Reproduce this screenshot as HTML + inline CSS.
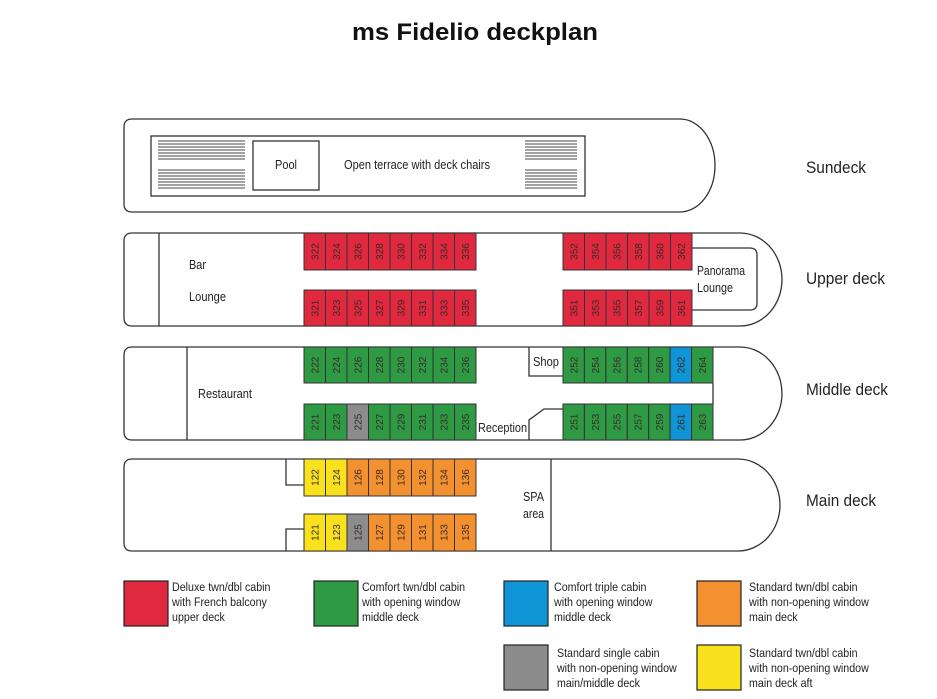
<!DOCTYPE html>
<html><head><meta charset="utf-8"><style>
html,body{margin:0;padding:0;background:#fff;width:937px;height:699px;overflow:hidden}
svg{display:block}
text{font-family:"Liberation Sans Narrow","Liberation Sans",sans-serif;fill:#222}
.c text{font-size:10px;fill:#3a2a2a}
.lg{font-size:12px;fill:#333}
</style></head><body>
<svg width="937" height="699" viewBox="0 0 937 699" xmlns="http://www.w3.org/2000/svg">
<text x="475" y="40" text-anchor="middle" textLength="246" lengthAdjust="spacingAndGlyphs" style="font-family:'Liberation Sans',sans-serif;font-weight:bold;font-size:24px;fill:#111">ms Fidelio deckplan</text>

<g fill="none" stroke="#333" stroke-width="1.3">
<path d="M132,119 H680 A35,46.5 0 0 1 680,212 H132 Q124,212 124,204 V127 Q124,119 132,119Z"/>
<rect x="151" y="136" width="434" height="60"/>
<rect x="253" y="141" width="66" height="49"/>
<path d="M132,233 H740 A42,46.5 0 0 1 740,326 H132 Q124,326 124,318 V241 Q124,233 132,233Z"/>
<line x1="159" y1="233" x2="159" y2="326"/>
<path d="M692,248 H750 Q757,248 757,255 V303 Q757,310 750,310 H692"/>
<path d="M132,347 H740 A42,46.5 0 0 1 740,440 H132 Q124,440 124,432 V355 Q124,347 132,347Z"/>
<line x1="187" y1="347" x2="187" y2="440"/>
<path d="M529,347 V376 H563"/>
<path d="M529,440 V420 L544,409 H563"/>
<line x1="713" y1="383" x2="713" y2="404"/>
<path d="M132,459 H738 A42,46 0 0 1 738,551 H132 Q124,551 124,543 V467 Q124,459 132,459Z"/>
<path d="M286,459 V485 H304"/>
<path d="M286,551 V529 H304"/>
<line x1="551" y1="459" x2="551" y2="551"/>
</g>
<g stroke="#444" stroke-width="1">
<path d="M158,141H245M158,144H245M158,147H245M158,150H245M158,153H245M158,156H245M158,159H245"/>
<path d="M158,170H245M158,173H245M158,176H245M158,179H245M158,182H245M158,185H245M158,188H245"/>
<path d="M525,141H577M525,144H577M525,147H577M525,150H577M525,153H577M525,156H577M525,159H577"/>
<path d="M525,170H577M525,173H577M525,176H577M525,179H577M525,182H577M525,185H577M525,188H577"/>
</g>
<g style="font-size:12.5px" lengthAdjust="spacingAndGlyphs">
<text x="275" y="169" textLength="22" lengthAdjust="spacingAndGlyphs">Pool</text>
<text x="344" y="169" textLength="146" lengthAdjust="spacingAndGlyphs">Open terrace with deck chairs</text>
<text x="189" y="269" textLength="17" lengthAdjust="spacingAndGlyphs">Bar</text>
<text x="189" y="301" textLength="37" lengthAdjust="spacingAndGlyphs">Lounge</text>
<text x="697" y="275" textLength="48" lengthAdjust="spacingAndGlyphs">Panorama</text>
<text x="697" y="292" textLength="36" lengthAdjust="spacingAndGlyphs">Lounge</text>
<text x="198" y="398" textLength="54" lengthAdjust="spacingAndGlyphs">Restaurant</text>
<text x="533" y="366" textLength="26" lengthAdjust="spacingAndGlyphs">Shop</text>
<text x="478" y="432" textLength="49" lengthAdjust="spacingAndGlyphs">Reception</text>
<text x="523" y="501" textLength="21" lengthAdjust="spacingAndGlyphs">SPA</text>
<text x="523" y="518" textLength="21" lengthAdjust="spacingAndGlyphs">area</text>
</g>
<g style="font-size:17px">
<text x="806" y="173" textLength="60" lengthAdjust="spacingAndGlyphs">Sundeck</text>
<text x="806" y="284" textLength="79" lengthAdjust="spacingAndGlyphs">Upper deck</text>
<text x="806" y="395" textLength="82" lengthAdjust="spacingAndGlyphs">Middle deck</text>
<text x="806" y="506" textLength="70" lengthAdjust="spacingAndGlyphs">Main deck</text>
</g>

<g class="c" stroke="#333" stroke-width="1">
<g fill="#e0283f">
<rect x="304" y="233" width="21.5" height="37"/><rect x="325.5" y="233" width="21.5" height="37"/><rect x="347" y="233" width="21.5" height="37"/><rect x="368.5" y="233" width="21.5" height="37"/><rect x="390" y="233" width="21.5" height="37"/><rect x="411.5" y="233" width="21.5" height="37"/><rect x="433" y="233" width="21.5" height="37"/><rect x="454.5" y="233" width="21.5" height="37"/>
<rect x="304" y="290" width="21.5" height="36"/><rect x="325.5" y="290" width="21.5" height="36"/><rect x="347" y="290" width="21.5" height="36"/><rect x="368.5" y="290" width="21.5" height="36"/><rect x="390" y="290" width="21.5" height="36"/><rect x="411.5" y="290" width="21.5" height="36"/><rect x="433" y="290" width="21.5" height="36"/><rect x="454.5" y="290" width="21.5" height="36"/>
<rect x="563" y="233" width="21.5" height="37"/><rect x="584.5" y="233" width="21.5" height="37"/><rect x="606" y="233" width="21.5" height="37"/><rect x="627.5" y="233" width="21.5" height="37"/><rect x="649" y="233" width="21.5" height="37"/><rect x="670.5" y="233" width="21.5" height="37"/>
<rect x="563" y="290" width="21.5" height="36"/><rect x="584.5" y="290" width="21.5" height="36"/><rect x="606" y="290" width="21.5" height="36"/><rect x="627.5" y="290" width="21.5" height="36"/><rect x="649" y="290" width="21.5" height="36"/><rect x="670.5" y="290" width="21.5" height="36"/>
</g>
<g fill="#2e9a44">
<rect x="304" y="347" width="21.5" height="36"/><rect x="325.5" y="347" width="21.5" height="36"/><rect x="347" y="347" width="21.5" height="36"/><rect x="368.5" y="347" width="21.5" height="36"/><rect x="390" y="347" width="21.5" height="36"/><rect x="411.5" y="347" width="21.5" height="36"/><rect x="433" y="347" width="21.5" height="36"/><rect x="454.5" y="347" width="21.5" height="36"/>
<rect x="304" y="404" width="21.5" height="36"/><rect x="325.5" y="404" width="21.5" height="36"/><rect x="347" y="404" width="21.5" height="36" fill="#8c8c8c"/><rect x="368.5" y="404" width="21.5" height="36"/><rect x="390" y="404" width="21.5" height="36"/><rect x="411.5" y="404" width="21.5" height="36"/><rect x="433" y="404" width="21.5" height="36"/><rect x="454.5" y="404" width="21.5" height="36"/>
<rect x="563" y="347" width="21.4" height="36"/><rect x="584.4" y="347" width="21.4" height="36"/><rect x="605.9" y="347" width="21.4" height="36"/><rect x="627.3" y="347" width="21.4" height="36"/><rect x="648.7" y="347" width="21.4" height="36"/><rect x="670.1" y="347" width="21.4" height="36" fill="#0f95d6"/><rect x="691.6" y="347" width="21.4" height="36"/>
<rect x="563" y="404" width="21.4" height="36"/><rect x="584.4" y="404" width="21.4" height="36"/><rect x="605.9" y="404" width="21.4" height="36"/><rect x="627.3" y="404" width="21.4" height="36"/><rect x="648.7" y="404" width="21.4" height="36"/><rect x="670.1" y="404" width="21.4" height="36" fill="#0f95d6"/><rect x="691.6" y="404" width="21.4" height="36"/>
</g>
<g fill="#f39131">
<rect x="304" y="459" width="21.5" height="37" fill="#f9e11e"/><rect x="325.5" y="459" width="21.5" height="37" fill="#f9e11e"/><rect x="347" y="459" width="21.5" height="37"/><rect x="368.5" y="459" width="21.5" height="37"/><rect x="390" y="459" width="21.5" height="37"/><rect x="411.5" y="459" width="21.5" height="37"/><rect x="433" y="459" width="21.5" height="37"/><rect x="454.5" y="459" width="21.5" height="37"/>
<rect x="304" y="514" width="21.5" height="37" fill="#f9e11e"/><rect x="325.5" y="514" width="21.5" height="37" fill="#f9e11e"/><rect x="347" y="514" width="21.5" height="37" fill="#8c8c8c"/><rect x="368.5" y="514" width="21.5" height="37"/><rect x="390" y="514" width="21.5" height="37"/><rect x="411.5" y="514" width="21.5" height="37"/><rect x="433" y="514" width="21.5" height="37"/><rect x="454.5" y="514" width="21.5" height="37"/>
</g>
</g>
<g class="c" text-anchor="middle">
<text transform="translate(318.5,251.5) rotate(-90)">322</text><text transform="translate(340,251.5) rotate(-90)">324</text><text transform="translate(361.5,251.5) rotate(-90)">326</text><text transform="translate(383,251.5) rotate(-90)">328</text><text transform="translate(404.5,251.5) rotate(-90)">330</text><text transform="translate(426,251.5) rotate(-90)">332</text><text transform="translate(447.5,251.5) rotate(-90)">334</text><text transform="translate(469,251.5) rotate(-90)">336</text>
<text transform="translate(318.5,308) rotate(-90)">321</text><text transform="translate(340,308) rotate(-90)">323</text><text transform="translate(361.5,308) rotate(-90)">325</text><text transform="translate(383,308) rotate(-90)">327</text><text transform="translate(404.5,308) rotate(-90)">329</text><text transform="translate(426,308) rotate(-90)">331</text><text transform="translate(447.5,308) rotate(-90)">333</text><text transform="translate(469,308) rotate(-90)">335</text>
<text transform="translate(577.5,251.5) rotate(-90)">352</text><text transform="translate(599,251.5) rotate(-90)">354</text><text transform="translate(620.5,251.5) rotate(-90)">356</text><text transform="translate(642,251.5) rotate(-90)">358</text><text transform="translate(663.5,251.5) rotate(-90)">360</text><text transform="translate(685,251.5) rotate(-90)">362</text>
<text transform="translate(577.5,308) rotate(-90)">351</text><text transform="translate(599,308) rotate(-90)">353</text><text transform="translate(620.5,308) rotate(-90)">355</text><text transform="translate(642,308) rotate(-90)">357</text><text transform="translate(663.5,308) rotate(-90)">359</text><text transform="translate(685,308) rotate(-90)">361</text>
<text transform="translate(318.5,365) rotate(-90)">222</text><text transform="translate(340,365) rotate(-90)">224</text><text transform="translate(361.5,365) rotate(-90)">226</text><text transform="translate(383,365) rotate(-90)">228</text><text transform="translate(404.5,365) rotate(-90)">230</text><text transform="translate(426,365) rotate(-90)">232</text><text transform="translate(447.5,365) rotate(-90)">234</text><text transform="translate(469,365) rotate(-90)">236</text>
<text transform="translate(318.5,422) rotate(-90)">221</text><text transform="translate(340,422) rotate(-90)">223</text><text transform="translate(361.5,422) rotate(-90)">225</text><text transform="translate(383,422) rotate(-90)">227</text><text transform="translate(404.5,422) rotate(-90)">229</text><text transform="translate(426,422) rotate(-90)">231</text><text transform="translate(447.5,422) rotate(-90)">233</text><text transform="translate(469,422) rotate(-90)">235</text>
<text transform="translate(577.4,365) rotate(-90)">252</text><text transform="translate(598.8,365) rotate(-90)">254</text><text transform="translate(620.3,365) rotate(-90)">256</text><text transform="translate(641.7,365) rotate(-90)">258</text><text transform="translate(663.1,365) rotate(-90)">260</text><text transform="translate(684.5,365) rotate(-90)">262</text><text transform="translate(706,365) rotate(-90)">264</text>
<text transform="translate(577.4,422) rotate(-90)">251</text><text transform="translate(598.8,422) rotate(-90)">253</text><text transform="translate(620.3,422) rotate(-90)">255</text><text transform="translate(641.7,422) rotate(-90)">257</text><text transform="translate(663.1,422) rotate(-90)">259</text><text transform="translate(684.5,422) rotate(-90)">261</text><text transform="translate(706,422) rotate(-90)">263</text>
<text transform="translate(318.5,477.5) rotate(-90)">122</text><text transform="translate(340,477.5) rotate(-90)">124</text><text transform="translate(361.5,477.5) rotate(-90)">126</text><text transform="translate(383,477.5) rotate(-90)">128</text><text transform="translate(404.5,477.5) rotate(-90)">130</text><text transform="translate(426,477.5) rotate(-90)">132</text><text transform="translate(447.5,477.5) rotate(-90)">134</text><text transform="translate(469,477.5) rotate(-90)">136</text>
<text transform="translate(318.5,532.5) rotate(-90)">121</text><text transform="translate(340,532.5) rotate(-90)">123</text><text transform="translate(361.5,532.5) rotate(-90)">125</text><text transform="translate(383,532.5) rotate(-90)">127</text><text transform="translate(404.5,532.5) rotate(-90)">129</text><text transform="translate(426,532.5) rotate(-90)">131</text><text transform="translate(447.5,532.5) rotate(-90)">133</text><text transform="translate(469,532.5) rotate(-90)">135</text>
</g>

<g stroke="#222" stroke-width="1.2">
<rect x="124" y="581" width="44" height="45" fill="#e0283f"/>
<rect x="314" y="581" width="44" height="45" fill="#2e9a44"/>
<rect x="504" y="581" width="44" height="45" fill="#0f95d6"/>
<rect x="697" y="581" width="44" height="45" fill="#f39131"/>
<rect x="504" y="645" width="44" height="45" fill="#8c8c8c"/>
<rect x="697" y="645" width="44" height="45" fill="#f9e11e"/>
</g>
<g class="lg" transform="scale(0.89,1)">
<text x="193.3" y="591">Deluxe twn/dbl cabin</text><text x="193.3" y="606">with French balcony</text><text x="193.3" y="621">upper deck</text>
<text x="406.7" y="591">Comfort twn/dbl cabin</text><text x="406.7" y="606">with opening window</text><text x="406.7" y="621">middle deck</text>
<text x="622.5" y="591">Comfort triple cabin</text><text x="622.5" y="606">with opening window</text><text x="622.5" y="621">middle deck</text>
<text x="841.6" y="591">Standard twn/dbl cabin</text><text x="841.6" y="606">with non-opening window</text><text x="841.6" y="621">main deck</text>
<text x="625.8" y="657">Standard single cabin</text><text x="625.8" y="672">with non-opening window</text><text x="625.8" y="687">main/middle deck</text>
<text x="841.6" y="657">Standard twn/dbl cabin</text><text x="841.6" y="672">with non-opening window</text><text x="841.6" y="687">main deck aft</text>
</g>
</svg>
</body></html>
